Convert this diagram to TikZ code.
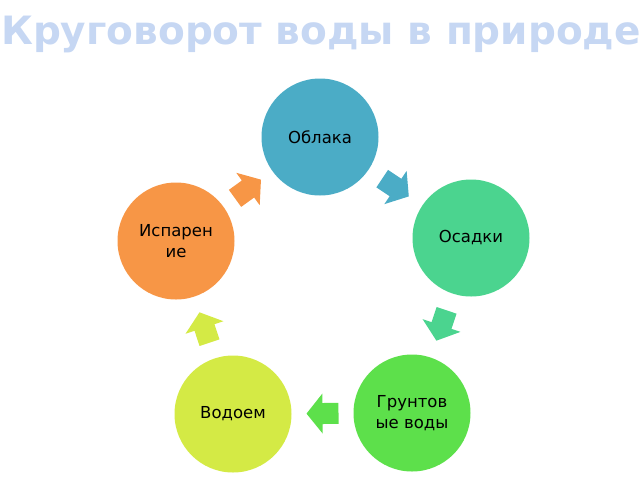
\documentclass[tikz,border=0pt]{standalone}
\usepackage{fontspec}
\setmainfont{DejaVu Sans}
\usetikzlibrary{calc}
\definecolor{cBlue}{HTML}{4BACC6}
\definecolor{cTeal}{HTML}{4BD48F}
\definecolor{cGreen}{HTML}{5DE04B}
\definecolor{cYellow}{HTML}{D4EA45}
\definecolor{cOrange}{HTML}{F79646}
\definecolor{cTitle}{HTML}{C6D7F3}
\tikzset{
  stage/.style={circle, minimum size=117pt, inner sep=0pt, align=center,
    font=\fontsize{16.5}{21.5}\selectfont, text=black},
}
\newcommand\cyclearrow[3]{%
  \fill[#3] let \p1=(#1), \p2=(#2), \n1={atan2(\y2-\y1,\x2-\x1)} in
    ($($(#1)!0.5!(#2)$)+(\n1:16pt)$)
    -- ($($(#1)!0.5!(#2)$)+(\n1+90:20pt)$)
    -- ($($(#1)!0.5!(#2)$)+(\n1+90:10.5pt)$)
    -- ($($(#1)!0.5!(#2)$)+(\n1:-16pt)+(\n1+90:10.5pt)$)
    -- ($($(#1)!0.5!(#2)$)+(\n1:-16pt)+(\n1-90:10.5pt)$)
    -- ($($(#1)!0.5!(#2)$)+(\n1-90:10.5pt)$)
    -- ($($(#1)!0.5!(#2)$)+(\n1-90:20pt)$)
    -- cycle;}
\begin{document}
\begin{tikzpicture}[x=1pt,y=-1pt]
\useasboundingbox (0,0) rectangle (640,480);
\node[anchor=base west, text=cTitle, font=\fontsize{39}{45}\bfseries\selectfont, inner sep=0pt] (title) at (1,44) {Круговорот воды в природе};
\node[stage, fill=cBlue] (clouds) at (320,137) {Облака};
\node[stage, fill=cTeal] (rain) at (471,238) {Осадки};
\node[stage, fill=cGreen] (ground) at (412,413) {Грунтов\\ые воды};
\node[stage, fill=cYellow] (pond) at (233,414) {Водоем};
\node[stage, fill=cOrange] (evap) at (176,241) {Испарен\\ие};
\cyclearrow{evap}{clouds}{cOrange}
\cyclearrow{clouds}{rain}{cBlue}
\cyclearrow{rain}{ground}{cTeal}
\cyclearrow{ground}{pond}{cGreen}
\cyclearrow{pond}{evap}{cYellow}
\end{tikzpicture}
\end{document}
